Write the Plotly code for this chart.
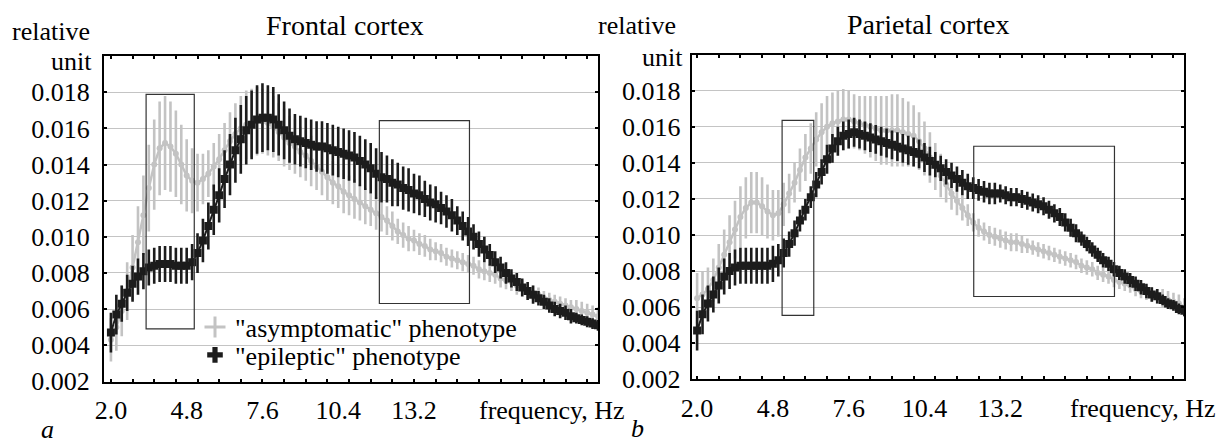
import plotly.graph_objects as go

W, H = 1219, 445
FONT = "Liberation Serif"

# ---------------- data ----------------
FREQ = [round(2.0 + 0.2 * i, 1) for i in range(91)]  # Hz, 2.0 ... 20.0

# Frontal cortex
FRONTAL_EPI = [0.0047, 0.0057, 0.0063, 0.0069, 0.0074, 0.0078, 0.0081, 0.0083, 0.0084, 0.0085,
               0.0085, 0.0085, 0.0084, 0.0084, 0.0084, 0.0086, 0.0091, 0.0098, 0.0106, 0.0115,
               0.0123, 0.0132, 0.0140, 0.0148, 0.0154, 0.0159, 0.0162, 0.0165, 0.0166, 0.0166,
               0.0165, 0.0162, 0.0159, 0.0156, 0.0154, 0.0153, 0.0152, 0.0151, 0.0150, 0.0150,
               0.0149, 0.0148, 0.0147, 0.0146, 0.0145, 0.0144, 0.0142, 0.0140, 0.0138, 0.0135,
               0.0133, 0.0132, 0.0130, 0.0129, 0.0127, 0.0126, 0.0124, 0.0123, 0.0121, 0.0119,
               0.0118, 0.0116, 0.0114, 0.0112, 0.0109, 0.0106, 0.0103, 0.0100, 0.0096, 0.0093,
               0.0090, 0.0086, 0.0083, 0.0080, 0.0077, 0.0075, 0.0072, 0.0070, 0.0068, 0.0066,
               0.0064, 0.0062, 0.0060, 0.0059, 0.0058, 0.0056, 0.0055, 0.0054, 0.0053, 0.0052,
               0.0051]
FRONTAL_EPI_ERR = [0.0011, 0.0011, 0.0010, 0.0010, 0.0010, 0.0010,
                   0.0010, 0.0010, 0.0010, 0.0010, 0.0010, 0.0010, 0.0010, 0.0010, 0.0010, 0.0010,
                   0.0011, 0.0012, 0.0013, 0.0014, 0.0015,
                   0.0016, 0.0017, 0.0018, 0.0019, 0.0019,
                   0.0019, 0.0019, 0.0019, 0.0018, 0.0018,
                   0.0017, 0.0016, 0.0015, 0.0014, 0.0014,
                   0.0014, 0.0014, 0.0014, 0.0014, 0.0014, 0.0014, 0.0014, 0.0014, 0.0014, 0.0014,
                   0.0014, 0.0014, 0.0014, 0.0014, 0.0014,
                   0.0013, 0.0013, 0.0012, 0.0012, 0.0012, 0.0011, 0.0011, 0.0010, 0.0010, 0.0010,
                   0.0009, 0.0009, 0.0009, 0.0008, 0.0008, 0.0008, 0.0007, 0.0007, 0.0007, 0.0006,
                   0.0006, 0.0006, 0.0006, 0.0005, 0.0005, 0.0005, 0.0005, 0.0005, 0.0004, 0.0004,
                   0.0004, 0.0004, 0.0004, 0.0004, 0.0004, 0.0003, 0.0003, 0.0003, 0.0003, 0.0003]
FRONTAL_ASY = [0.0043, 0.0050, 0.0059, 0.0070, 0.0083, 0.0097, 0.0112, 0.0127, 0.0140, 0.0149,
               0.0152, 0.0150, 0.0146, 0.0140, 0.0134, 0.0131, 0.0130, 0.0132, 0.0135, 0.0139,
               0.0143, 0.0148, 0.0153, 0.0157, 0.0160, 0.0162, 0.0163, 0.0164, 0.0164, 0.0163,
               0.0161, 0.0158, 0.0155, 0.0152, 0.0150, 0.0147, 0.0145, 0.0142, 0.0139, 0.0136,
               0.0133, 0.0130, 0.0128, 0.0125, 0.0123, 0.0121, 0.0119, 0.0117, 0.0115, 0.0113,
               0.0111, 0.0109, 0.0106, 0.0103, 0.0101, 0.0099, 0.0098, 0.0096, 0.0095, 0.0093,
               0.0092, 0.0091, 0.0089, 0.0088, 0.0087, 0.0086, 0.0085, 0.0084, 0.0082, 0.0081,
               0.0080, 0.0079, 0.0077, 0.0076, 0.0075, 0.0073, 0.0072, 0.0070, 0.0069, 0.0068,
               0.0066, 0.0065, 0.0064, 0.0063, 0.0062, 0.0061, 0.0060, 0.0059, 0.0058, 0.0057,
               0.0056]
FRONTAL_ASY_ERR = [0.0012, 0.0013, 0.0014, 0.0016, 0.0018, 0.0020,
                   0.0022, 0.0024, 0.0025, 0.0026, 0.0026, 0.0025, 0.0024, 0.0022, 0.0020, 0.0018,
                   0.0016, 0.0014, 0.0013, 0.0013, 0.0014,
                   0.0015, 0.0016, 0.0017, 0.0018, 0.0019,
                   0.0019, 0.0019, 0.0018, 0.0018, 0.0017,
                   0.0016, 0.0016, 0.0015, 0.0015, 0.0014,
                   0.0014, 0.0014, 0.0013, 0.0013, 0.0013, 0.0012, 0.0012, 0.0012, 0.0011, 0.0011,
                   0.0010, 0.0010, 0.0009, 0.0009, 0.0008,
                   0.0008, 0.0008, 0.0007, 0.0007, 0.0007, 0.0006, 0.0006, 0.0006, 0.0006, 0.0005,
                   0.0005, 0.0005, 0.0005, 0.0005, 0.0005, 0.0005, 0.0005, 0.0005, 0.0005, 0.0005,
                   0.0005, 0.0005, 0.0005, 0.0005, 0.0005, 0.0004, 0.0004, 0.0004, 0.0004, 0.0004,
                   0.0004, 0.0004, 0.0004, 0.0004, 0.0004, 0.0005, 0.0005, 0.0005, 0.0005, 0.0005]

# Parietal cortex
PARIETAL_EPI = [0.0047, 0.0056, 0.0062, 0.0067, 0.0072, 0.0077, 0.0080, 0.0082, 0.0083, 0.0083,
                0.0083, 0.0083, 0.0083, 0.0083, 0.0084, 0.0086, 0.0090, 0.0095, 0.0101, 0.0108,
                0.0114, 0.0121, 0.0128, 0.0135, 0.0142, 0.0148, 0.0152, 0.0155, 0.0156, 0.0157,
                0.0156, 0.0155, 0.0154, 0.0153, 0.0152, 0.0151, 0.0150, 0.0149, 0.0148, 0.0147,
                0.0146, 0.0145, 0.0143, 0.0141, 0.0139, 0.0137, 0.0135, 0.0133, 0.0131, 0.0129,
                0.0127, 0.0126, 0.0125, 0.0124, 0.0123, 0.0123, 0.0123, 0.0122, 0.0121, 0.0121,
                0.0120, 0.0119, 0.0118, 0.0117, 0.0116, 0.0114, 0.0112, 0.0110, 0.0107, 0.0104,
                0.0101, 0.0098, 0.0095, 0.0092, 0.0089, 0.0086, 0.0084, 0.0081, 0.0079, 0.0077,
                0.0075, 0.0073, 0.0071, 0.0069, 0.0067, 0.0066, 0.0064, 0.0062, 0.0061, 0.0059,
                0.0058]
PARIETAL_EPI_ERR = [0.0011, 0.0011, 0.0010, 0.0010, 0.0010, 0.0010,
                    0.0010, 0.0010, 0.0010, 0.0010, 0.0010, 0.0010, 0.0010, 0.0010, 0.0010, 0.0009,
                    0.0008, 0.0007, 0.0007, 0.0006, 0.0006,
                    0.0006, 0.0007, 0.0007, 0.0008, 0.0008,
                    0.0008, 0.0008, 0.0008, 0.0008, 0.0008,
                    0.0008, 0.0008, 0.0008, 0.0008, 0.0008,
                    0.0008, 0.0008, 0.0008, 0.0008, 0.0008, 0.0008, 0.0008, 0.0008, 0.0007, 0.0007,
                    0.0007, 0.0007, 0.0007, 0.0007, 0.0007,
                    0.0006, 0.0006, 0.0006, 0.0006, 0.0006, 0.0005, 0.0005, 0.0005, 0.0005, 0.0005,
                    0.0005, 0.0005, 0.0005, 0.0005, 0.0005, 0.0005, 0.0005, 0.0005, 0.0005, 0.0005,
                    0.0004, 0.0004, 0.0004, 0.0004, 0.0004, 0.0004, 0.0004, 0.0004, 0.0004, 0.0004,
                    0.0004, 0.0004, 0.0004, 0.0004, 0.0004, 0.0003, 0.0003, 0.0003, 0.0003, 0.0003]
PARIETAL_ASY = [0.0065, 0.0067, 0.0070, 0.0075, 0.0082, 0.0089, 0.0096, 0.0103, 0.0110, 0.0115,
                0.0118, 0.0118, 0.0116, 0.0113, 0.0111, 0.0112, 0.0117, 0.0123, 0.0129, 0.0136,
                0.0143, 0.0148, 0.0153, 0.0157, 0.0160, 0.0162, 0.0163, 0.0164, 0.0164, 0.0163,
                0.0162, 0.0161, 0.0160, 0.0159, 0.0158, 0.0158, 0.0158, 0.0158, 0.0157, 0.0156,
                0.0155, 0.0152, 0.0148, 0.0143, 0.0138, 0.0133, 0.0128, 0.0123, 0.0119, 0.0115,
                0.0111, 0.0107, 0.0104, 0.0102, 0.0100, 0.0099, 0.0098, 0.0097, 0.0096, 0.0096,
                0.0095, 0.0094, 0.0093, 0.0092, 0.0091, 0.0090, 0.0089, 0.0088, 0.0087, 0.0086,
                0.0085, 0.0083, 0.0082, 0.0081, 0.0079, 0.0078, 0.0077, 0.0075, 0.0074, 0.0073,
                0.0072, 0.0070, 0.0069, 0.0068, 0.0067, 0.0066, 0.0065, 0.0064, 0.0063, 0.0062,
                0.0060]
PARIETAL_ASY_ERR = [0.0014, 0.0013, 0.0012, 0.0012, 0.0013, 0.0014,
                    0.0015, 0.0016, 0.0017, 0.0017, 0.0017, 0.0017, 0.0016, 0.0015, 0.0014, 0.0013,
                    0.0012, 0.0011, 0.0011, 0.0012, 0.0013,
                    0.0014, 0.0015, 0.0016, 0.0017, 0.0017,
                    0.0017, 0.0017, 0.0016, 0.0015, 0.0015,
                    0.0016, 0.0017, 0.0018, 0.0019, 0.0019,
                    0.0020, 0.0020, 0.0019, 0.0018, 0.0017, 0.0016, 0.0015, 0.0014, 0.0013, 0.0012,
                    0.0010, 0.0009, 0.0008, 0.0007, 0.0006,
                    0.0005, 0.0005, 0.0005, 0.0005, 0.0005, 0.0005, 0.0005, 0.0005, 0.0005, 0.0005,
                    0.0004, 0.0004, 0.0004, 0.0004, 0.0004, 0.0004, 0.0004, 0.0004, 0.0004, 0.0004,
                    0.0004, 0.0004, 0.0004, 0.0004, 0.0004, 0.0004, 0.0004, 0.0004, 0.0004, 0.0004,
                    0.0004, 0.0004, 0.0004, 0.0004, 0.0004, 0.0005, 0.0005, 0.0005, 0.0005, 0.0005]

# highlighted frequency/value windows (x0, x1, y0, y1)
FRONTAL_BOXES = [(3.30, 5.08, 0.00491, 0.01789), (11.92, 15.25, 0.00631, 0.01644)]
PARIETAL_BOXES = [(5.14, 6.31, 0.00554, 0.01636), (12.22, 17.42, 0.00659, 0.01492)]

X_TICKVALS = [2.0, 4.8, 7.6, 10.4, 13.2]
X_TICKTEXT = ["2.0", "4.8", "7.6", "10.4", "13.2"]
X_MINOR = [round(2.0 + 0.8 * k, 1) for k in range(23)]
Y_TICKVALS = [0.002, 0.004, 0.006, 0.008, 0.010, 0.012, 0.014, 0.016, 0.018]
Y_TICKTEXT = ["0.002", "0.004", "0.006", "0.008", "0.010", "0.012", "0.014", "0.016", "0.018"]

GRAY = "#c3c3c3"
BLACK = "#1c1c1c"
TICK_SIZE = 26
TEXT_SIZE = 26
TITLE_SIZE = 28

fig = go.Figure()


def add_series(xa, ya, y, err, color, symbol, msize, lw):
    fig.add_trace(go.Scatter(
        x=FREQ, y=y, xaxis=xa, yaxis=ya, mode="lines+markers",
        line=dict(color=color, width=lw),
        marker=dict(color=color, symbol=symbol, size=msize),
        error_y=dict(type="data", array=err, visible=True, color=color,
                     thickness=2.6, width=0),
        showlegend=False, hoverinfo="skip"))


add_series("x", "y", FRONTAL_ASY, FRONTAL_ASY_ERR, GRAY, "circle", 6, 2.5)
add_series("x", "y", FRONTAL_EPI, FRONTAL_EPI_ERR, BLACK, "square", 8, 2)
add_series("x2", "y2", PARIETAL_ASY, PARIETAL_ASY_ERR, GRAY, "circle", 6, 2.5)
add_series("x2", "y2", PARIETAL_EPI, PARIETAL_EPI_ERR, BLACK, "square", 8, 2)

# legend entries
fig.add_trace(go.Scatter(x=[None], y=[None], xaxis="x", yaxis="y", mode="markers",
                         marker=dict(symbol="cross-thin", size=15, line=dict(color=GRAY, width=3)),
                         name='"asymptomatic" phenotype', legend="legend"))
fig.add_trace(go.Scatter(x=[None], y=[None], xaxis="x", yaxis="y", mode="markers",
                         marker=dict(symbol="cross", size=13, color=BLACK),
                         name='"epileptic" phenotype', legend="legend2"))


def px(xp, yp):
    return xp / W, 1 - yp / H


shapes = []
for (xa, ya, boxes) in (("x", "y", FRONTAL_BOXES), ("x2", "y2", PARIETAL_BOXES)):
    for (x0, x1, y0, y1) in boxes:
        shapes.append(dict(type="rect", xref=xa, yref=ya, x0=x0, x1=x1, y0=y0, y1=y1,
                           line=dict(color="#333333", width=1.2), layer="above"))

TFONT = dict(family=FONT, size=TICK_SIZE, color="black")


def xaxis(domain, rng, anchor):
    return dict(domain=domain, range=rng, anchor=anchor, automargin=False,
                showline=True, linecolor="black",
                linewidth=2, mirror="ticks", showgrid=False, zeroline=False,
                tickmode="array", tickvals=X_TICKVALS, ticktext=X_TICKTEXT,
                ticks="inside", ticklen=0, ticklabelstandoff=4,
                tickfont=TFONT,
                minor=dict(tickmode="array", tickvals=X_MINOR, ticks="inside", ticklen=3,
                           tickcolor="black", tickwidth=1.5, showgrid=False))


def yaxis(domain, rng, anchor, standoff):
    return dict(domain=domain, range=rng, anchor=anchor, automargin=False,
                showline=True, linecolor="black",
                linewidth=2, mirror="ticks", zeroline=False,
                showgrid=True, gridcolor="#c4c4c4", gridwidth=1.3,
                tickmode="array", tickvals=Y_TICKVALS, ticktext=Y_TICKTEXT,
                ticks="inside", ticklen=3, tickcolor="black", tickwidth=1.5,
                ticklabelstandoff=standoff,
                tickfont=TFONT)


def ann(text, xp, yp, xanchor="center", size=TEXT_SIZE, italic=False):
    x, y = px(xp, yp)
    return dict(text=text, x=x, y=y, xref="paper", yref="paper", showarrow=False,
                xanchor=xanchor, yanchor="middle",
                font=dict(family=FONT, size=size, color="black",
                          style="italic" if italic else "normal"))


annotations = [
    ann("relative", 10, 31, "left"),
    ann("unit", 94, 62, "right"),
    ann("Frontal cortex", 345, 25, "center", TITLE_SIZE),
    ann("frequency, Hz", 477, 410, "left"),
    ann("a", 47, 429, "center", TEXT_SIZE, True),
    ann("relative", 678, 25, "right"),
    ann("unit", 685, 57, "right"),
    ann("Parietal cortex", 928, 24, "center", TITLE_SIZE),
    ann("frequency, Hz", 1068, 408, "left"),
    ann("b", 637, 428, "center", TEXT_SIZE, True),
]

lx, ly1 = px(195, 327)
_, ly2 = px(195, 355)
legend_style = dict(xref="paper", yref="paper", xanchor="left", yanchor="middle",
                    bgcolor="rgba(0,0,0,0)", borderwidth=0,
                    font=dict(family=FONT, size=TEXT_SIZE, color="black"))

fig.update_layout(
    width=W, height=H, autosize=False,
    font=dict(family=FONT, size=TEXT_SIZE, color="black"),
    margin=dict(l=0, r=0, t=0, b=0, pad=0, autoexpand=False),
    paper_bgcolor="white", plot_bgcolor="white",
    xaxis=xaxis([104 / W, 598 / W], [1.744, 20.0], "y"),
    yaxis=yaxis([1 - 381.7 / H, 1 - 55.7 / H], [0.00198, 0.02003], "x", 7),
    xaxis2=xaxis([691.7 / W, 1184.3 / W], [1.80, 20.0], "y2"),
    yaxis2=yaxis([1 - 379.3 / H, 1 - 55 / H], [0.0020, 0.01998], "x2", 4),
    shapes=shapes,
    annotations=annotations,
    legend=dict(legend_style, x=lx, y=ly1),
    legend2=dict(legend_style, x=lx, y=ly2),
)

PAGE_FIX = ("var s=document.documentElement.style;s.margin='0';s.padding='0';s.overflow='hidden';"
            "var b=document.body.style;b.margin='0';b.padding='0';b.overflow='hidden';")

fig.write_html("out.html", config={"displayModeBar": False}, post_script=PAGE_FIX)
